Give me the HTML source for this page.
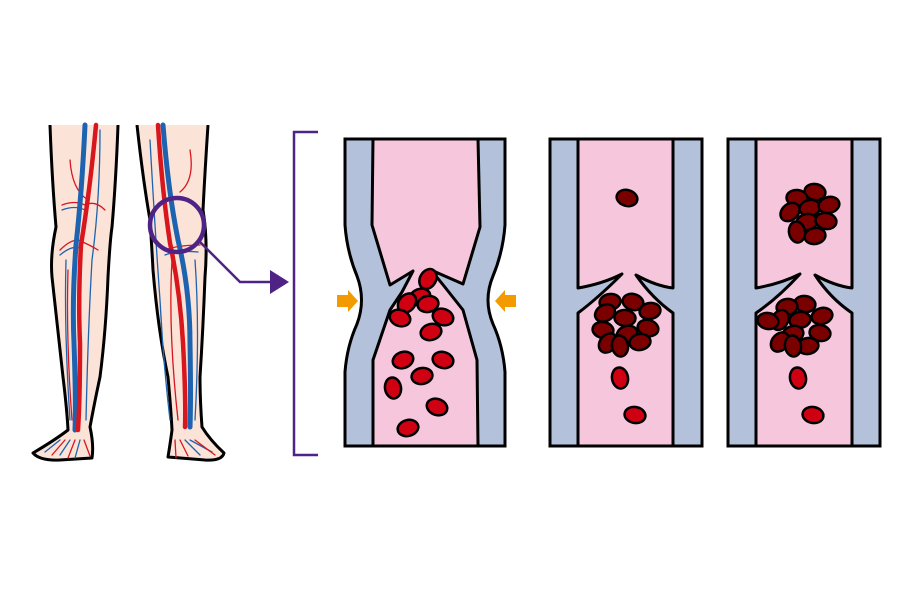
<!DOCTYPE html>
<html><head><meta charset="utf-8"><style>html,body{margin:0;padding:0;background:#fff}svg{display:block}</style></head>
<body>
<svg width="900" height="600" viewBox="0 0 900 600" xmlns="http://www.w3.org/2000/svg">
<defs>
<g id="rc"><ellipse rx="10.5" ry="8" stroke="#000" stroke-width="2.5"/></g>
</defs>
<!-- legs -->
<g stroke="#000" stroke-width="3" fill="#fce3d8" stroke-linejoin="round">
<path d="M50,125 Q52,180 56,227 Q50,255 52,277 Q58,330 63,377 Q67,410 68,430 Q55,440 33,453 Q40,461 60,460 L92,458 Q94,445 90,427 Q95,400 100,377 Q106,330 108,277 Q110,240 112,227 Q116,180 118,125"/>
<path d="M137,125 Q143,180 150,220 Q152,250 153,270 Q158,330 168,377 Q171,410 172,430 Q170,445 168,457 L205,460 Q222,461 224,453 Q210,440 202,427 Q200,400 200,377 Q203,330 205,277 Q208,240 203,210 Q205,170 208,125"/>
</g>
<rect x="45" y="118" width="170" height="7" fill="#fff"/>
<g fill="none" stroke-linecap="round">
<path d="M70,160 Q72,190 88,200 M62,205 Q75,200 85,205 Q95,200 105,210 M60,250 Q70,240 78,240 Q90,245 98,250" stroke="#d8161e" stroke-width="1.3"/>
<path d="M100,130 Q100,200 92,260 Q88,330 86,420 M66,260 Q64,330 70,420 M60,440 L45,452 M70,440 L60,455 M80,440 L75,458 M62,210 Q75,205 85,210 M60,255 Q72,245 80,248" stroke="#1e63b0" stroke-width="1.3"/>
<path d="M68,270 Q66,340 72,420 M84,440 L90,456 M65,440 L52,455 M75,440 L68,458" stroke="#d8161e" stroke-width="1.3"/>
<path d="M85,125 Q82,190 76,245 Q72,300 74,343 Q76,400 75,430" stroke="#1e63b0" stroke-width="5"/>
<path d="M96,125 Q90,190 81,245 Q78,300 80,343 Q80,400 78,430" stroke="#d8161e" stroke-width="4.5"/>
<path d="M150,140 Q155,230 160,300 Q163,360 170,420 M195,260 Q200,330 195,420 M185,440 L200,455 M190,440 L212,452 M165,255 Q178,250 198,252" stroke="#1e63b0" stroke-width="1.3"/>
<path d="M190,150 Q195,180 180,192 M165,250 Q178,245 200,245 M172,260 Q168,330 178,420 M180,440 L188,456 M195,440 L215,455 M175,440 L176,458" stroke="#d8161e" stroke-width="1.3"/>
<path d="M163,125 Q168,190 178,240 Q190,290 190,343 Q191,400 190,427" stroke="#1e63b0" stroke-width="5"/>
<path d="M158,125 Q162,190 170,243 Q180,290 183,343 Q186,400 185,427" stroke="#d8161e" stroke-width="4.5"/>
</g>
<!-- purple callout -->
<circle cx="177" cy="225" r="27" stroke="#4f2386" fill="none" stroke-width="4.5"/>
<path d="M200,242 L240,282 L272,282" stroke="#4f2386" stroke-width="2.5" fill="none"/>
<polygon points="270,270 289,282 270,294" fill="#4f2386"/>
<path d="M318,132 L294,132 L294,455 L318,455" stroke="#4f2386" stroke-width="2.5" fill="none"/>
<!-- vessel 1 -->
<path d="M345,139 L345,225 Q347,252 357,276 Q366,300 357,324 Q347,346 345,372 L345,446 L505,446 L505,372 Q503,346 493,324 Q483,300 493,276 Q503,252 505,225 L505,139 Z" fill="#b3c1da" stroke="#000" stroke-width="3"/>
<path d="M373,139 L372,225 L390,285 L413,271 L402,292 L390,310 L373,360 L373,446 L478,446 L477,360 L463,310 L444,286 L431,270 L463,284 L480,227 L478,139 Z" fill="#f6c7dc" stroke="#000" stroke-width="3" stroke-linejoin="round"/>
<line x1="345" y1="446" x2="505" y2="446" stroke="#000" stroke-width="3"/>
<g fill="#cf0012">
<use href="#rc" transform="translate(428,279) rotate(-60)"/>
<use href="#rc" transform="translate(420,297) rotate(-20)"/>
<use href="#rc" transform="translate(407,303) rotate(-50)"/>
<use href="#rc" transform="translate(428,304) rotate(-10)"/>
<use href="#rc" transform="translate(400,318) rotate(20)"/>
<use href="#rc" transform="translate(443,317) rotate(20)"/>
<use href="#rc" transform="translate(431,332) rotate(-15)"/>
<use href="#rc" transform="translate(403,360) rotate(-20)"/>
<use href="#rc" transform="translate(443,360) rotate(15)"/>
<use href="#rc" transform="translate(422,376) rotate(-10)"/>
<use href="#rc" transform="translate(393,388) rotate(80)"/>
<use href="#rc" transform="translate(437,407) rotate(20)"/>
<use href="#rc" transform="translate(408,428) rotate(-15)"/>
</g>
<polygon points="337,295 348,295 348,290 358,301 348,312 348,307 337,307" fill="#f29a00"/>
<polygon points="516,295 505,295 505,290 495,301 505,312 505,307 516,307" fill="#f29a00"/>
<!-- vessel 2 -->
<rect x="550" y="139" width="152" height="307" fill="#b3c1da" stroke="#000" stroke-width="3"/>
<path d="M578,139 L578,288 Q602,284 622,274 Q598,298 578,313 L578,446 L673,446 L673,313 Q652,298 636,275 Q656,286 673,288 L673,139 Z" fill="#f6c7dc" stroke="#000" stroke-width="3" stroke-linejoin="round"/>
<rect x="550" y="139" width="152" height="307" fill="none" stroke="#000" stroke-width="3"/>
<g fill="#7a0000">
<use href="#rc" transform="translate(627,198) rotate(15)"/>
<use href="#rc" transform="translate(610,302) rotate(-10)"/>
<use href="#rc" transform="translate(633,302) rotate(15)"/>
<use href="#rc" transform="translate(650,311) rotate(-10)"/>
<use href="#rc" transform="translate(605,313) rotate(-30)"/>
<use href="#rc" transform="translate(625,318) rotate(5)"/>
<use href="#rc" transform="translate(648,328) rotate(15)"/>
<use href="#rc" transform="translate(603,330) rotate(10)"/>
<use href="#rc" transform="translate(627,334) rotate(-20)"/>
<use href="#rc" transform="translate(608,343) rotate(-50)"/>
<use href="#rc" transform="translate(640,342) rotate(-10)"/>
<use href="#rc" transform="translate(620,346) rotate(80)"/>
</g>
<g fill="#cf0012">
<use href="#rc" transform="translate(620,378) rotate(80)"/>
<use href="#rc" transform="translate(635,415) rotate(10)"/>
</g>
<!-- vessel 3 -->
<rect x="728" y="139" width="152" height="307" fill="#b3c1da" stroke="#000" stroke-width="3"/>
<path d="M756,139 L756,288 Q780,284 800,274 Q778,298 756,313 L756,446 L852,446 L852,313 Q830,298 815,275 Q835,286 852,288 L852,139 Z" fill="#f6c7dc" stroke="#000" stroke-width="3" stroke-linejoin="round"/>
<rect x="728" y="139" width="152" height="307" fill="none" stroke="#000" stroke-width="3"/>
<g fill="#7a0000">
<use href="#rc" transform="translate(815,192) rotate(10)"/>
<use href="#rc" transform="translate(797,198) rotate(5)"/>
<use href="#rc" transform="translate(790,212) rotate(-40)"/>
<use href="#rc" transform="translate(810,208) rotate(-10)"/>
<use href="#rc" transform="translate(829,205) rotate(-15)"/>
<use href="#rc" transform="translate(807,222) rotate(-10)"/>
<use href="#rc" transform="translate(826,221) rotate(10)"/>
<use href="#rc" transform="translate(797,232) rotate(80)"/>
<use href="#rc" transform="translate(815,236) rotate(-10)"/>
<use href="#rc" transform="translate(805,304) rotate(10)"/>
<use href="#rc" transform="translate(787,307) rotate(-10)"/>
<use href="#rc" transform="translate(780,320) rotate(-60)"/>
<use href="#rc" transform="translate(768,321) rotate(10)"/>
<use href="#rc" transform="translate(800,320) rotate(-10)"/>
<use href="#rc" transform="translate(822,316) rotate(-15)"/>
<use href="#rc" transform="translate(793,334) rotate(-15)"/>
<use href="#rc" transform="translate(820,333) rotate(10)"/>
<use href="#rc" transform="translate(780,342) rotate(-50)"/>
<use href="#rc" transform="translate(808,346) rotate(-10)"/>
<use href="#rc" transform="translate(793,346) rotate(80)"/>
</g>
<g fill="#cf0012">
<use href="#rc" transform="translate(798,378) rotate(80)"/>
<use href="#rc" transform="translate(813,415) rotate(10)"/>
</g>
</svg>
</body></html>
